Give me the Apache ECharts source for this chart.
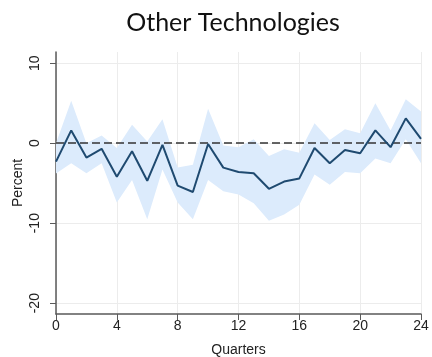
<!DOCTYPE html>
<html>
<head>
<meta charset="utf-8">
<script src="https://cdn.jsdelivr.net/npm/echarts@6/dist/echarts.min.js"></script>
<style>
  html, body { margin: 0; padding: 0; background: #fff; }
  #chart { width: 432px; height: 357px; }
</style>
</head>
<body>
<div id="chart"></div>
<script>
// Impulse response of "Other Technologies" with its confidence band
const quarters = ['0','1','2','3','4','5','6','7','8','9','10','11','12','13','14','15','16','17','18','19','20','21','22','23','24'];
const estimate = [-2.3, 1.6, -1.8, -0.7, -4.2, -1.0, -4.7, -0.2, -5.3, -6.1, -0.1, -3.05, -3.6,
                  -3.75, -5.7, -4.8, -4.4, -0.6, -2.5, -0.85, -1.25, 1.6, -0.5, 3.1, 0.55];
const upper = [0.0, 5.3, 0.0, 0.95, -0.6, 2.3, 0.2, 3.0, -3.05, -2.7, 4.3, -0.3, -0.5,
               0.5, -1.6, -0.75, -1.2, 2.5, 0.4, 1.75, 1.25, 5.0, 1.6, 5.5, 3.95];
const lower = [-3.8, -2.5, -3.75, -2.5, -7.4, -4.6, -9.5, -3.3, -7.4, -9.5, -4.6, -6.0, -6.4,
               -7.5, -9.7, -8.9, -7.7, -3.9, -5.2, -3.6, -3.75, -1.9, -2.5, 0.5, -2.5];
const yTicks = [-20, -10, 0, 10];
const xTickEvery = 4;

// band thickness stacked on top of the lower bound
const bandWidth = upper.map((u, i) => u - lower[i]);
const showEvery = (idx) => idx % xTickEvery === 0;

const chart = echarts.init(document.getElementById('chart'), null, { renderer: 'canvas' });
const gridColor = '#ececec';
const axisColor = '#5a5a5a';

chart.setOption({
  animation: false,
  title: {
    text: 'Other Technologies',
    left: 228,
    textAlign: 'center',
    top: 5,
    textStyle: { fontFamily: 'Lato', fontWeight: 'normal', fontSize: 25, color: '#111' }
  },
  grid: { left: 56, right: 11, top: 52, bottom: 43, containLabel: false, outerBoundsMode: 'none' },
  xAxis: {
    type: 'category',
    data: quarters,
    boundaryGap: false,
    name: 'Quarters',
    nameLocation: 'middle',
    nameGap: 29,
    nameTextStyle: { fontFamily: 'Liberation Sans', fontSize: 14, color: '#222' },
    axisLine: { show: true, onZero: false, lineStyle: { color: axisColor, width: 1.5 } },
    axisTick: { show: true, length: 6, interval: showEvery, lineStyle: { color: axisColor } },
    axisLabel: { fontFamily: 'Liberation Sans', fontSize: 14, color: '#222', margin: 5,
                 interval: showEvery },
    splitLine: { show: true, interval: showEvery, lineStyle: { color: gridColor, width: 1 } }
  },
  yAxis: {
    type: 'value',
    min: -21.35, max: 11.4,
    name: 'Percent',
    nameLocation: 'middle',
    nameGap: 31,
    nameMoveOverlap: false,
    nameTextStyle: { fontFamily: 'Liberation Sans', fontSize: 14, color: '#222' },
    axisLine: { show: true, onZero: false, lineStyle: { color: axisColor, width: 1.5 } },
    axisTick: { show: true, length: 6, lineStyle: { color: axisColor }, customValues: yTicks },
    axisLabel: { fontFamily: 'Liberation Sans', fontSize: 14, color: '#222', rotate: 90,
                 margin: 14, customValues: yTicks },
    splitLine: { show: true, lineStyle: { color: gridColor, width: 1 } }
  },
  series: [
    {
      name: 'lower',
      type: 'line',
      data: lower,
      stack: 'band',
      stackStrategy: 'all',
      symbol: 'none',
      lineStyle: { opacity: 0 },
      z: 1,
      silent: true
    },
    {
      name: 'band',
      type: 'line',
      data: bandWidth,
      stack: 'band',
      stackStrategy: 'all',
      symbol: 'none',
      lineStyle: { opacity: 0 },
      areaStyle: { color: '#dcebfc', opacity: 1 },
      z: 1,
      silent: true
    },
    {
      name: 'estimate',
      type: 'line',
      data: estimate,
      symbol: 'none',
      z: 5,
      lineStyle: { color: '#1f4a70', width: 2 },
      markLine: {
        silent: true,
        symbol: 'none',
        label: { show: false },
        lineStyle: { color: '#333', type: [8, 4], width: 1.5 },
        data: [{ yAxis: 0 }]
      }
    }
  ]
});
</script>
</body>
</html>
